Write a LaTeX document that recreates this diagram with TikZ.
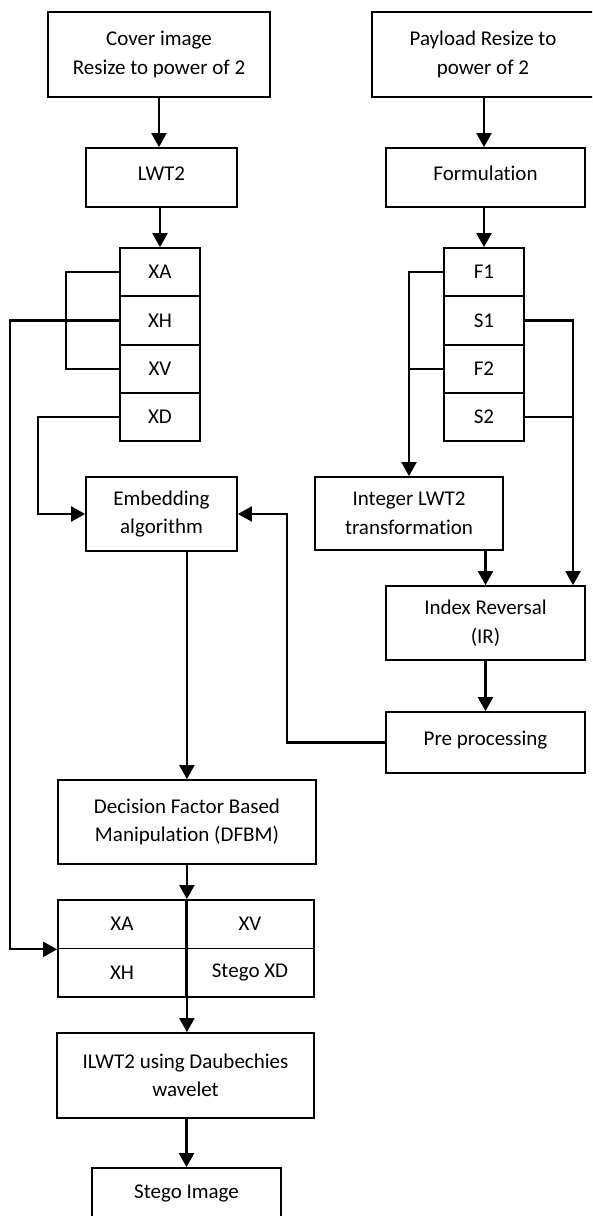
\documentclass[tikz,border=0pt]{standalone}
\usepackage{fontspec}
\setmainfont{Carlito}[Ligatures=NoCommon]
\usetikzlibrary{arrows.meta}
\tikzset{
  box/.style={draw, line width=1.8pt, align=center, inner sep=0pt,
    font=\fontsize{21}{28.5}\selectfont},
  oneline/.style={text height=14pt, text depth=9pt},
  cell/.style={box, minimum width=80pt, minimum height=48.3pt},
  tcell/.style={box, minimum width=128pt, minimum height=48.5pt},
  arr/.style={line width=2.2pt, -{Triangle[width=15pt,length=14pt]}},
  ln/.style={line width=1.9pt},
  thinln/.style={line width=1.6pt}
}
\begin{document}
\begin{tikzpicture}[x=1pt,y=-1pt]
\useasboundingbox (0,0) rectangle (592,1216);
\fill[white] (0,0) rectangle (592,1216);
\clip (0,0) rectangle (592,1216);

% left column
\node[box, minimum width=222pt, minimum height=85pt] (cover) at (159,54.5) {Cover image\\Resize to power of 2};
\node[box, oneline, minimum width=151pt, minimum height=59pt] (lwt) at (161.5,177.5) {LWT2};
\node[cell] (xa) at (160,272.2) {XA};
\node[cell] (xh) at (160,320.5) {XH};
\node[cell] (xv) at (160,368.8) {XV};
\node[cell] (xd) at (160,417.1) {XD};
\node[box, minimum width=151pt, minimum height=74pt] (emb) at (161.5,514) {Embedding\\algorithm};

% right column
\node[box, minimum width=222pt, minimum height=85pt] (pay) at (483,54.5) {Payload Resize to\\power of 2};
\node[box, oneline, minimum width=199pt, minimum height=59pt] (form) at (485.5,177.5) {Formulation};
\node[cell] (f1) at (484,272.2) {F1};
\node[cell] (s1) at (484,320.5) {S1};
\node[cell] (f2) at (484,368.8) {F2};
\node[cell] (s2) at (484,417.1) {S2};
\node[box, minimum width=188pt, minimum height=73pt] (int) at (409,513.5) {Integer LWT2\\transformation};
\node[box, minimum width=199pt, minimum height=74pt] (ir) at (485.5,623) {Index Reversal\\(IR)};
\node[box, oneline, minimum width=199pt, minimum height=61pt] (pre) at (485.5,742.5) {Pre processing};

% lower column
\node[box, minimum width=258pt, minimum height=84pt] (dfbm) at (187,822) {Decision Factor Based\\Manipulation (DFBM)};
\node[tcell] (txa) at (122,924.2) {XA};
\node[tcell] (txv) at (250,924.2) {XV};
\node[tcell] (txh) at (122,972.7) {XH};
\node[tcell] (txd) at (250,972.7) {Stego XD};
\node[box, minimum width=257pt, minimum height=85pt] (ilwt) at (185.5,1075.5) {ILWT2 using Daubechies\\wavelet};
\node[box, minimum width=189pt, minimum height=64pt, text height=14pt, text depth=17pt] (stego) at (186.5,1200) {Stego Image};

% connectors top
\draw[arr] (cover.south) -- (cover.south |- lwt.north);
\draw[arr] (xa.north |- lwt.south) -- (xa.north);
\draw[arr] (f1.north |- pay.south) -- (f1.north |- form.north);
\draw[arr] (f1.north |- form.south) -- (f1.north);

% left brackets
\draw[thinln] (xa.west) -- ++(-53,0) |- (xv.west);
\draw[arr] (xh.west) -- (10,320.5) |- (txa.south west);
\draw[arr] (xd.west) -- (38,417.1) |- (emb.west);

% right brackets
\draw[arr] (f1.west) -| (int.north);
\draw[ln] (f2.west) -- (int.north |- f2.west);
\coordinate (sx) at (573,320.5);
\draw[arr] (s1.east) -- (sx) -- (sx |- ir.north);
\draw[ln] (s2.east) -- (sx |- s2.east);
\draw[arr] (ir.north |- int.south) -- (ir.north);
\draw[arr] (ir.south) -- (pre.north);

% feedback
\draw[arr] (pre.west) -- (287,742.5) |- (emb.east);

% down path
\draw[arr] (emb.south -| txa.north east) -- (dfbm.north -| txa.north east);
\draw[arr] (dfbm.south -| txa.north east) -- (txa.north east);
\draw[ln] (txa.north east) -- (txh.south east);
\draw[arr] (txh.south east) -- (txh.south east |- ilwt.north);
\draw[arr] (ilwt.south -| stego.north) -- (stego.north);
\end{tikzpicture}
\end{document}
